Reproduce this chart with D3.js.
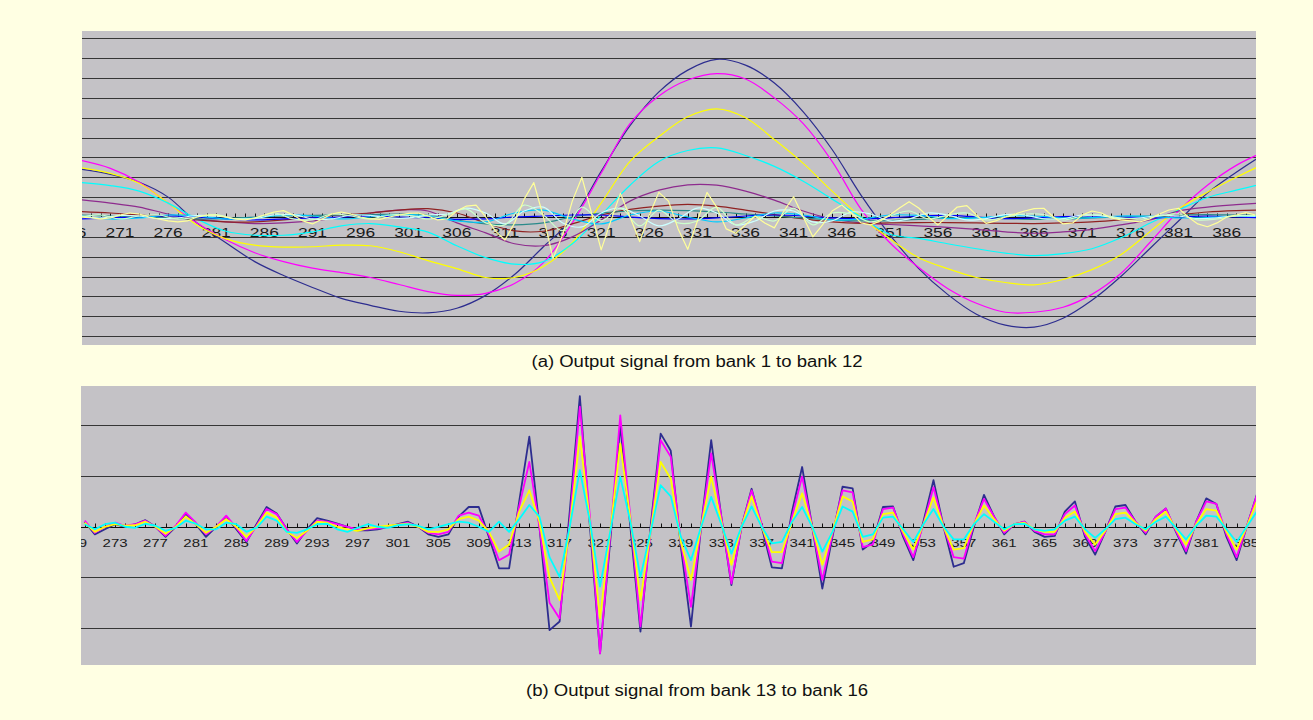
<!DOCTYPE html>
<html>
<head>
<meta charset="utf-8">
<script src="https://cdn.jsdelivr.net/npm/d3@7/dist/d3.min.js"></script>
<style>
	body { margin: 0; background: #ffffe3; }
</style>
</head>
<body>
<script>

// ---------- panel (a): bank 1 .. bank 12 ----------
// banks 1-9 read every 3rd sample starting at 267, banks 10-11 every 2nd, bank 12 every sample
let startA = 267;

let bank1 = [2.40, 2.15, 1.75, 1.0, -0.3, -1.3, -2.25, -2.95, -3.55, -4.1,
	-4.45, -4.75, -4.83, -4.6, -3.95, -2.9, -1.5, -0.1, 2.3, 4.6,
	6.3, 7.4, 7.94, 7.65, 6.75, 5.3, 3.4, 1.1, -0.9, -2.6,
	-3.9, -4.9, -5.45, -5.55, -5.1, -4.2, -3.0, -1.6, -0.2, 1.2,
	2.25, 3.2];
let bank2 = [2.84, 2.45, 1.75, 0.7, -0.3, -1.15, -1.8, -2.25, -2.58, -2.8,
	-3.05, -3.4, -3.76, -3.95, -3.85, -3.35, -2.3, -0.3, 2.2, 4.7,
	6.1, 6.9, 7.22, 6.95, 6.0, 4.7, 2.8, 0.4, -1.3, -2.55,
	-3.6, -4.35, -4.8, -4.8, -4.55, -3.9, -2.85, -1.3, 0.3, 1.6,
	2.6, 3.3];
let bank3 = [2.48, 2.2, 1.7, 0.7, -0.4, -1.1, -1.42, -1.52, -1.5, -1.42,
	-1.45, -1.75, -2.2, -2.6, -3.05, -3.05, -2.5, -1.3, 0.7, 2.8,
	4.05, 5.05, 5.45, 5.0, 3.9, 2.7, 1.3, 0.0, -1.1, -2.05,
	-2.6, -3.05, -3.3, -3.42, -3.15, -2.65, -1.9, -0.75, 0.4, 1.25,
	2.0, 2.7];
let bank4 = [1.73, 1.58, 1.3, 0.7, -0.1, -0.72, -0.92, -0.92, -0.75, -0.45,
	-0.33, -0.5, -0.76, -1.45, -2.05, -2.38, -2.25, -1.35, 0.1, 1.6,
	2.8, 3.35, 3.48, 3.1, 2.55, 1.8, 0.9, 0.0, -0.87, -1.08,
	-1.35, -1.6, -1.82, -1.95, -1.85, -1.6, -1.05, -0.32, 0.35, 0.98,
	1.35, 1.7];
let bank5 = [0.86, 0.7, 0.5, 0.15, -0.1, -0.25, -0.33, -0.3, -0.2, 0.0,
	0.2, 0.35, 0.3, -0.3, -0.8, -1.35, -1.45, -1.0, -0.15, 0.8,
	1.35, 1.62, 1.6, 1.3, 0.85, 0.3, -0.1, -0.3, -0.38, -0.45,
	-0.52, -0.62, -0.75, -0.82, -0.75, -0.62, -0.4, -0.15, 0.3, 0.5,
	0.62, 0.72];
let bank6 = [0.27, 0.2, 0.1, 0.0, -0.15, -0.25, -0.25, -0.15, 0.0, 0.1,
	0.2, 0.35, 0.42, 0.2, -0.3, -0.7, -0.72, -0.35, 0.1, 0.38,
	0.55, 0.63, 0.55, 0.35, 0.12, -0.1, -0.25, -0.32, -0.3, -0.28,
	-0.28, -0.3, -0.32, -0.33, -0.3, -0.25, -0.15, -0.05, 0.1, 0.25,
	0.32, 0.35];
let bank7 = [0.1, 0.05, 0.0, -0.05, -0.1, -0.08, 0.0, 0.05, 0.08, 0.1,
	0.12, 0.15, 0.1, -0.15, -0.35, -0.4, -0.3, 0.0, 0.2, 0.3,
	0.35, 0.32, 0.25, 0.15, 0.05, -0.05, -0.15, -0.2, -0.18, -0.12,
	-0.05, -0.02, -0.08, -0.12, -0.1, -0.05, 0.0, 0.05, 0.1, 0.12,
	0.1, 0.08];
let bank8 = [-0.1, -0.05, 0.0, 0.05, 0.0, -0.1, -0.15, -0.1, -0.05, 0.0,
	0.05, 0.0, -0.05, -0.12, -0.1, 0.0, 0.05, 0.1, 0.1, 0.0,
	-0.08, -0.1, -0.05, 0.05, 0.1, 0.05, -0.05, -0.1, -0.05, 0.05,
	0.08, 0.0, -0.08, -0.05, 0.02, 0.05, 0.0, -0.05, 0.0, 0.05,
	0.0, -0.05];
let bank9 = [0.05, -0.1, -0.05, 0.1, 0.05, -0.1, -0.05, 0.1, 0.05, -0.1,
	0.0, 0.12, 0.05, -0.2, -0.25, 0.2, 0.35, -0.1, -0.35, 0.1,
	0.3, 0.0, -0.25, -0.05, 0.2, 0.1, -0.15, -0.1, 0.1, 0.08,
	-0.08, -0.05, 0.06, 0.05, -0.05, -0.03, 0.05, 0.03, -0.05, -0.03,
	0.04, 0.02];
let bank10 = [0.05, -0.05, 0.08, 0.05, -0.08, -0.05, 0.08, 0.05, -0.08, -0.08,
	0.1, 0.12, -0.1, -0.1, 0.1, 0.08, -0.05, -0.05, 0.1, 0.15,
	0.45, 0.2, -0.35, 0.3, 0.5, -0.3, -0.5, 0.2, 0.45, 0.05,
	-0.45, -0.1, 0.45, 0.2, -0.4, -0.2, 0.3, 0.3, -0.25, -0.2,
	0.25, 0.15, -0.2, -0.1, 0.2, 0.1, -0.15, -0.08, 0.12, 0.1,
	-0.1, -0.08, 0.1, 0.06, -0.08, -0.05, 0.08, 0.05, -0.08, -0.04,
	0.06, 0.04];
let bank11 = [0.0, 0.1, -0.1, 0.05, 0.1, -0.1, 0.0, 0.12, -0.1, -0.05,
	0.2, -0.1, -0.15, 0.15, 0.05, -0.1, 0.1, 0.08, -0.1, 0.1,
	0.4, -0.3, -0.4, 0.6, 0.1, -0.7, 0.5, -0.2, 0.45, -0.45,
	0.35, -0.3, -0.2, 0.5, -0.4, 0.0, -0.2, 0.45, -0.4, 0.2,
	0.15, -0.25, 0.05, 0.3, -0.1, 0.1, 0.2, -0.15, 0.0, 0.15,
	0.12, -0.15, 0.05, 0.1, -0.05, -0.1, 0.05, 0.15, -0.15, -0.1,
	0.05, 0.08];
let bank12 = [0.0, -0.05, -0.1, -0.05, 0.1, 0.2, 0.15, 0.0, -0.1, -0.2,
	-0.25, -0.2, 0.0, 0.1, 0.1, 0.0, -0.1, -0.15, -0.05, 0.1,
	0.25, 0.32, 0.1, -0.2, -0.35, -0.1, 0.15, 0.25, 0.15, 0.0,
	-0.1, -0.12, 0.0, 0.1, 0.18, 0.2, 0.05, -0.15, -0.1, 0.3,
	0.55, 0.6, 0.0, -0.7, -1.16, -0.3, 0.9, 1.73, 0.0, -2.08,
	-0.9, 0.8, 2.0, 0.2, -1.66, -0.2, 1.19, 0.0, -1.24, 0.1,
	1.24, 0.8, -0.6, -1.63, -0.2, 1.24, 0.5, -0.6, -0.82, -0.4,
	0.05, -0.3, -0.55, 0.3, 1.02, 0.0, -1.0, -0.4, 0.3, 0.6,
	0.2, -0.3, -0.4, -0.2, 0.1, 0.45, 0.77, 0.45, 0.0, -0.4,
	0.05, 0.5, 0.57, 0.1, -0.32, -0.2, 0.0, 0.15, 0.3, 0.42,
	0.44, 0.0, -0.35, -0.3, 0.1, 0.3, 0.2, -0.05, -0.15, -0.2,
	-0.25, -0.1, 0.15, 0.35, 0.44, 0.0, -0.35, -0.49, -0.3, 0.0,
	0.1, 0.22, 0.1];

let labelsA = [266, 271, 276, 281, 286, 291, 296, 301, 306, 311, 316, 321, 326,
	331, 336, 341, 346, 351, 356, 361, 366, 371, 376, 381, 386];

// ---------- panel (b): bank 13 .. bank 16, every sample from 270 ----------
let startB = 270;

let bank13 = [0.1, -0.15, -0.05, 0.05, 0.0, 0.05, 0.13, 0.0, -0.2, 0.0,
	0.26, 0.05, -0.2, 0.0, 0.2, -0.05, -0.3, 0.05, 0.39, 0.26,
	-0.05, -0.33, -0.05, 0.17, 0.12, 0.06, 0.0, -0.07, -0.07, -0.05,
	0.0, 0.05, 0.1, 0.0, -0.15, -0.2, -0.15, 0.2, 0.39, 0.39,
	-0.2, -0.82, -0.82, 0.5, 1.78, 0.0, -2.04, -1.87, 0.3, 2.58,
	0.0, -2.5, -0.3, 2.0, 0.0, -2.07, 0.0, 1.84, 1.5, -0.4,
	-1.97, 0.0, 1.71, 0.2, -1.15, 0.0, 0.75, 0.0, -0.8, -0.82,
	0.3, 1.18, 0.0, -1.22, -0.2, 0.79, 0.76, -0.45, -0.3, 0.39,
	0.4, -0.2, -0.66, 0.1, 0.92, 0.0, -0.79, -0.72, 0.0, 0.63,
	0.2, -0.15, 0.05, 0.1, -0.1, -0.2, -0.18, 0.3, 0.5, -0.2,
	-0.55, -0.1, 0.4, 0.43, 0.1, -0.15, 0.2, 0.36, -0.1, -0.53,
	0.1, 0.56, 0.45, -0.2, -0.66, 0.0, 0.63];
let bank14 = [0.12, -0.12, 0.0, 0.08, 0.02, 0.05, 0.12, 0.0, -0.18, 0.02,
	0.28, 0.08, -0.15, 0.0, 0.22, -0.02, -0.28, 0.02, 0.35, 0.25,
	-0.05, -0.3, -0.08, 0.12, 0.1, 0.05, 0.0, -0.05, -0.05, -0.03,
	0.0, 0.04, 0.08, 0.0, -0.12, -0.15, -0.1, 0.22, 0.28, 0.22,
	-0.15, -0.66, -0.55, 0.4, 1.28, 0.0, -1.5, -1.81, 0.1, 2.37,
	0.2, -2.5, -0.2, 2.2, 0.2, -1.97, -0.1, 1.71, 1.38, -0.3,
	-1.58, 0.0, 1.45, 0.2, -1.12, 0.0, 0.72, 0.05, -0.69, -0.72,
	0.2, 0.99, 0.0, -1.05, -0.15, 0.72, 0.68, -0.4, -0.35, 0.35,
	0.38, -0.15, -0.6, 0.05, 0.78, 0.0, -0.6, -0.63, 0.05, 0.55,
	0.2, -0.12, 0.05, 0.1, -0.08, -0.15, -0.15, 0.25, 0.42, -0.15,
	-0.48, -0.1, 0.35, 0.38, 0.1, -0.12, 0.2, 0.36, -0.08, -0.48,
	0.1, 0.5, 0.45, -0.15, -0.6, 0.0, 0.62];
let bank15 = [0.08, -0.1, 0.0, 0.05, 0.02, 0.03, 0.1, 0.0, -0.14, 0.0,
	0.2, 0.05, -0.12, 0.0, 0.15, 0.0, -0.2, 0.0, 0.28, 0.18,
	-0.1, -0.22, -0.08, 0.1, 0.08, 0.0, -0.05, -0.08, -0.03, 0.0,
	0.02, 0.04, 0.06, 0.0, -0.1, -0.1, -0.05, 0.15, 0.2, 0.12,
	-0.1, -0.49, -0.35, 0.3, 0.72, 0.1, -1.0, -1.45, 0.0, 1.78,
	0.1, -1.81, -0.1, 1.64, 0.15, -1.45, -0.1, 1.28, 0.95, -0.3,
	-1.05, 0.0, 0.99, 0.1, -0.75, 0.0, 0.6, 0.0, -0.5, -0.5,
	0.1, 0.66, 0.0, -0.75, -0.1, 0.6, 0.5, -0.3, -0.25, 0.25,
	0.28, -0.1, -0.45, 0.05, 0.58, 0.0, -0.45, -0.42, 0.05, 0.42,
	0.15, -0.08, 0.05, 0.08, -0.05, -0.1, -0.1, 0.18, 0.3, -0.1,
	-0.35, -0.08, 0.25, 0.28, 0.08, -0.08, 0.15, 0.3, -0.05, -0.35,
	0.05, 0.35, 0.32, -0.1, -0.45, 0.0, 0.5];
let bank16 = [0.05, -0.05, 0.05, 0.08, 0.0, -0.02, 0.06, 0.02, -0.08, -0.02,
	0.12, 0.06, -0.05, -0.05, 0.08, 0.05, -0.1, -0.02, 0.2, 0.12,
	-0.1, -0.12, -0.05, 0.05, 0.06, -0.05, -0.1, -0.02, 0.05, 0.0,
	-0.02, 0.03, 0.05, 0.02, -0.05, 0.0, 0.05, 0.1, 0.08, 0.0,
	-0.1, 0.1, -0.1, 0.15, 0.43, 0.2, -0.6, -0.99, 0.0, 1.12,
	0.1, -1.18, -0.1, 0.99, 0.1, -0.99, -0.1, 0.82, 0.6, -0.2,
	-0.66, 0.0, 0.59, 0.05, -0.53, 0.0, 0.4, 0.0, -0.33, -0.3,
	0.1, 0.39, 0.0, -0.49, -0.1, 0.4, 0.3, -0.2, -0.15, 0.18,
	0.2, -0.05, -0.3, 0.05, 0.35, 0.0, -0.25, -0.25, 0.05, 0.25,
	0.1, -0.05, 0.05, 0.06, -0.05, -0.08, -0.05, 0.12, 0.2, -0.05,
	-0.22, -0.05, 0.15, 0.18, 0.05, -0.05, 0.1, 0.2, -0.02, -0.25,
	0.02, 0.22, 0.2, -0.05, -0.3, 0.0, 0.3];

let labelsB = [269, 273, 277, 281, 285, 289, 293, 297, 301, 305, 309, 313, 317,
	321, 325, 329, 333, 337, 341, 345, 349, 353, 357, 361, 365, 369, 373, 377, 381, 385];

let captionA = "(a) Output signal from bank 1 to bank 12";
let captionB = "(b) Output signal from bank 13 to bank 16";

// old spreadsheet palette, one colour per bank
let paletteA = ["#2d2d8f", "#ff00ff", "#ffff00", "#00ffff", "#8e2b8e", "#902222",
	"#2a8a8a", "#0000ff", "#00ccff", "#ccffff", "#ccffcc", "#ffff99"];
let paletteB = ["#2d2d8f", "#ff00ff", "#ffff00", "#00ffff"];

//selects the body and appends the svg
let svg = d3.select("body").append("svg")
	.attr("width", 1313)
	.attr("height", 720);

//turn a list of values into points, first sample and step tell the sample number
function toPoints(values, start, step) {
	return values.map((v, i) => ({ n: start + i * step, v: v }));
}

//draws one gray chart box with grid, axis, lines and the caption under it
function drawPanel(p) {
	let x = d3.scaleLinear().domain(p.xDomain).range([p.left, p.right]);
	let y = d3.scaleLinear().domain(p.yDomain).range([p.bottom, p.top]);

	let g = svg.append("g");

	g.append("clipPath")
		.attr("id", p.id + "-clip")
		.append("rect")
		.attr("x", p.left)
		.attr("y", p.top)
		.attr("width", p.right - p.left)
		.attr("height", p.bottom - p.top);

	g.append("rect") //gray plot area
		.attr("x", p.left)
		.attr("y", p.top)
		.attr("width", p.right - p.left)
		.attr("height", p.bottom - p.top)
		.attr("fill", "#c4c2c6");

	let inner = g.append("g").attr("clip-path", `url(#${p.id}-clip)`);

	//horizontal grid lines on every unit
	inner.selectAll(".grid")
		.data(y.ticks(p.gridCount).filter(d => d !== 0))
		.enter().append("line")
		.attr("class", "grid")
		.attr("x1", p.left)
		.attr("x2", p.right)
		.attr("y1", d => Math.round(y(d)) + 0.5)
		.attr("y2", d => Math.round(y(d)) + 0.5)
		.attr("stroke", "#363636")
		.attr("stroke-width", 1);

	//category axis across the zero line, small tick on every sample
	let zeroY = Math.round(y(0)) + 0.5;
	inner.append("line")
		.attr("x1", p.left)
		.attr("x2", p.right)
		.attr("y1", zeroY)
		.attr("y2", zeroY)
		.attr("stroke", "#111");

	inner.selectAll(".tick")
		.data(d3.range(Math.ceil(p.xDomain[0]), p.xDomain[1]))
		.enter().append("line")
		.attr("class", "tick")
		.attr("x1", d => Math.round(x(d)) + 0.5)
		.attr("x2", d => Math.round(x(d)) + 0.5)
		.attr("y1", zeroY)
		.attr("y2", zeroY - 4)
		.attr("stroke", "#111");

	inner.selectAll(".lab")
		.data(p.labels)
		.enter().append("text")
		.attr("class", "lab")
		.attr("x", d => x(d))
		.attr("y", zeroY + p.labelDy)
		.attr("text-anchor", "middle")
		.attr("font-family", "Liberation Sans, Arial, sans-serif")
		.attr("font-size", p.labelSize)
		.attr("textLength", p.labelWidth)
		.attr("lengthAdjust", "spacingAndGlyphs")
		.attr("fill", "#1a1a1a")
		.text(d => d);

	//one line per bank
	p.series.forEach(s => {
		let line = d3.line()
			.x(d => x(d.n))
			.y(d => y(d.v))
			.curve(s.step > 1 ? d3.curveCatmullRom : d3.curveLinear);

		inner.append("path")
			.attr("d", line(toPoints(s.values, s.start, s.step)))
			.attr("fill", "none")
			.attr("stroke", s.color)
			.attr("stroke-width", p.lineWidth)
			.attr("stroke-linejoin", "round");
	});

	g.append("text") //caption under the box, a bit wide like the scanned figure
		.attr("x", 697)
		.attr("y", p.captionY)
		.attr("text-anchor", "middle")
		.attr("font-family", "Liberation Sans, Arial, sans-serif")
		.attr("font-size", 16)
		.attr("textLength", p.captionWidth)
		.attr("lengthAdjust", "spacingAndGlyphs")
		.attr("fill", "#111")
		.text(p.caption);
}

let seriesA = [bank1, bank2, bank3, bank4, bank5, bank6, bank7, bank8, bank9, bank10, bank11, bank12]
	.map((values, i) => ({
		values: values,
		start: startA,
		step: i < 9 ? 3 : (i < 11 ? 2 : 1),
		color: paletteA[i]
	}));

let seriesB = [bank13, bank14, bank15, bank16]
	.map((values, i) => ({ values: values, start: startB, step: 1, color: paletteB[i] }));

drawPanel({
	id: "a",
	left: 82, right: 1256, top: 31, bottom: 345,
	xDomain: [267.05, 389.05],
	yDomain: [-6.45, 9.37],
	gridCount: 16,
	labels: labelsA,
	labelSize: 12,
	labelWidth: 29,
	labelDy: 19,
	lineWidth: 1.2,
	series: seriesA,
	caption: captionA,
	captionY: 367,
	captionWidth: 331
});

drawPanel({
	id: "b",
	left: 81, right: 1256, top: 386, bottom: 665,
	xDomain: [269.63, 385.92],
	yDomain: [-2.73, 2.78],
	gridCount: 6,
	labels: labelsB,
	labelSize: 11,
	labelWidth: 25,
	labelDy: 19,
	lineWidth: 1.8,
	series: seriesB,
	caption: captionB,
	captionY: 696,
	captionWidth: 342
});

</script>
</body>
</html>
